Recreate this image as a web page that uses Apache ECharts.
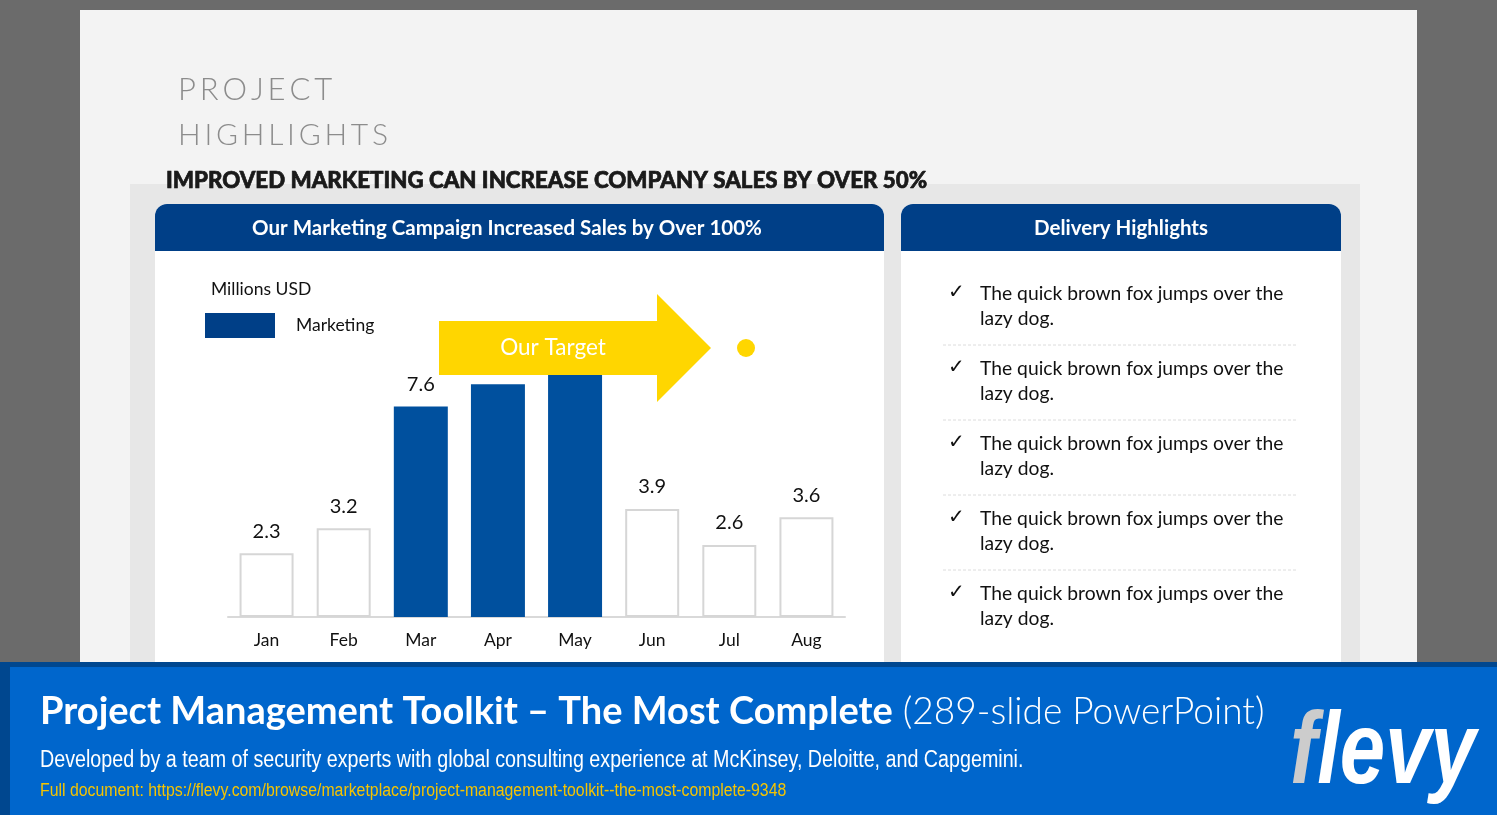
<!DOCTYPE html>
<html>
<head>
<meta charset="utf-8">
<script src="https://cdn.jsdelivr.net/npm/echarts@6/dist/echarts.min.js"></script>
<style>
  html, body { margin: 0; padding: 0; background: #6b6b6b; }
  #chart { width: 1497px; height: 815px; }
</style>
</head>
<body>
<div id="chart"></div>
<script>
// ---- data ----
const months = ['Jan', 'Feb', 'Mar', 'Apr', 'May', 'Jun', 'Jul', 'Aug'];
const marketingSales = [null, null, 7.6, 8.4, 9.2, null, null, null];
const otherSales = [2.3, 3.2, null, null, null, 3.9, 2.6, 3.6];
const unitLabel = 'Millions USD';
const seriesName = 'Marketing';
const targetLabel = 'Our Target';
const highlights = [
  'The quick brown fox jumps over the\nlazy dog.',
  'The quick brown fox jumps over the\nlazy dog.',
  'The quick brown fox jumps over the\nlazy dog.',
  'The quick brown fox jumps over the\nlazy dog.',
  'The quick brown fox jumps over the\nlazy dog.'
];

const BODY = 'Lato, "Open Sans", sans-serif';
const SANS = '"Liberation Sans", Arial, sans-serif';
const DARKBLUE = '#003f87';
const BARBLUE = '#00509e';

const chart = echarts.init(document.getElementById('chart'), null, { renderer: 'canvas' });

const graphics = [];
// slide backgrounds
graphics.push({ type: 'rect', z: -10, shape: { x: 0, y: 0, width: 1497, height: 815 }, style: { fill: '#6b6b6b' } });
graphics.push({ type: 'rect', z: -9, shape: { x: 80, y: 10, width: 1337, height: 660 }, style: { fill: '#f3f3f3' } });
graphics.push({ type: 'rect', z: -8, shape: { x: 130, y: 184, width: 1230, height: 486 }, style: { fill: '#e7e7e7' } });
// left panel
graphics.push({ type: 'rect', z: -7, shape: { x: 155, y: 204, width: 729, height: 466, r: [12, 12, 0, 0] }, style: { fill: '#ffffff' } });
graphics.push({ type: 'rect', z: -6, shape: { x: 155, y: 204, width: 729, height: 47, r: [12, 12, 0, 0] }, style: { fill: DARKBLUE } });
// right panel
graphics.push({ type: 'rect', z: -7, shape: { x: 901, y: 204, width: 440, height: 466, r: [12, 12, 0, 0] }, style: { fill: '#ffffff' } });
graphics.push({ type: 'rect', z: -6, shape: { x: 901, y: 204, width: 440, height: 47, r: [12, 12, 0, 0] }, style: { fill: DARKBLUE } });

// titles
graphics.push({ type: 'text', x: 178, y: 90, style: { text: 'P\u2009R\u2009O\u2009J\u2009E\u2009C\u2009T', fill: '#8c8c8c', fontSize: 31, fontWeight: 300, fontFamily: BODY, textAlign: 'left', textVerticalAlign: 'middle' } });
graphics.push({ type: 'text', x: 178, y: 135, style: { text: 'H\u2009I\u2009G\u2009H\u2009L\u2009I\u2009G\u2009H\u2009T\u2009S', fill: '#8c8c8c', fontSize: 30, fontWeight: 300, fontFamily: BODY, textAlign: 'left', textVerticalAlign: 'middle' } });
graphics.push({ type: 'text', x: 166, y: 181, style: { text: 'IMPROVED MARKETING CAN INCREASE COMPANY SALES BY OVER 50%', fill: '#1a1a1a', stroke: '#000', lineWidth: 0.6, fontSize: 22.3, fontWeight: 900, fontFamily: BODY, textAlign: 'left', textVerticalAlign: 'middle' } });
graphics.push({ type: 'text', x: 507, y: 228, style: { text: 'Our Marketing Campaign Increased Sales by Over 100%', fill: '#ffffff', fontSize: 20.5, fontWeight: 'bold', fontFamily: BODY, textAlign: 'center', textVerticalAlign: 'middle' } });
graphics.push({ type: 'text', x: 1121, y: 228, style: { text: 'Delivery Highlights', fill: '#ffffff', fontSize: 20.5, fontWeight: 'bold', fontFamily: BODY, textAlign: 'center', textVerticalAlign: 'middle' } });
graphics.push({ type: 'text', x: 211, y: 289, style: { text: unitLabel, fill: '#111', fontSize: 17.5, fontFamily: BODY, textAlign: 'left', textVerticalAlign: 'middle' } });

// target arrow
graphics.push({ type: 'polygon', z: 100, shape: { points: [[439, 321], [657, 321], [657, 294], [711, 348], [657, 402], [657, 375], [439, 375]] }, style: { fill: '#ffd600' } });
graphics.push({ type: 'text', z: 101, x: 553, y: 348, style: { text: targetLabel, fill: '#ffffff', fontSize: 22.5, fontFamily: BODY, textAlign: 'center', textVerticalAlign: 'middle' } });
graphics.push({ type: 'circle', z: 100, shape: { cx: 746, cy: 348, r: 9 }, style: { fill: '#ffd600' } });

// right panel list
highlights.forEach(function (t, i) {
  const y0 = 294 + i * 75;
  graphics.push({ type: 'text', x: 948, y: y0 - 1, style: { text: '\u2713', fill: '#111', fontSize: 20, fontFamily: '"DejaVu Sans", sans-serif', textAlign: 'left', textVerticalAlign: 'middle' } });
  graphics.push({ type: 'text', x: 980, y: y0 - 13, style: { text: t, fill: '#111', fontSize: 19.3, fontFamily: BODY, lineHeight: 25, textAlign: 'left', textVerticalAlign: 'top' } });
  if (i < highlights.length - 1) {
    graphics.push({ type: 'line', shape: { x1: 943, y1: y0 + 51, x2: 1298, y2: y0 + 51 }, style: { stroke: '#dcdcdc', lineWidth: 1, lineDash: [3, 2] } });
  }
});

// bottom banner
graphics.push({ type: 'rect', z: 50, shape: { x: 0, y: 662, width: 1497, height: 153 }, style: { fill: '#00478f' } });
graphics.push({ type: 'rect', z: 51, shape: { x: 10, y: 667, width: 1487, height: 148 }, style: { fill: '#0066cc' } });
graphics.push({ type: 'text', z: 52, x: 40, y: 712, style: {
  text: '{b|Project Management Toolkit \u2013 The Most Complete}{n|\u00a0(289-slide PowerPoint)}',
  textAlign: 'left', textVerticalAlign: 'middle',
  rich: {
    b: { fill: '#ffffff', fontSize: 38, fontWeight: 'bold', fontFamily: BODY },
    n: { fill: '#ffffff', fontSize: 37, fontWeight: 300, fontFamily: BODY }
  }
} });
graphics.push({ type: 'text', z: 52, x: 40, y: 761, scaleX: 0.856, style: { text: 'Developed by a team of security experts with global consulting experience at McKinsey, Deloitte, and Capgemini.', fill: '#ffffff', fontSize: 23, fontFamily: SANS, textAlign: 'left', textVerticalAlign: 'middle' } });
graphics.push({ type: 'text', z: 52, x: 40, y: 791, scaleX: 0.88, style: { text: 'Full document: https://flevy.com/browse/marketplace/project-management-toolkit--the-most-complete-9348', fill: '#f5c400', fontSize: 18, fontFamily: SANS, textAlign: 'left', textVerticalAlign: 'middle' } });
graphics.push({ type: 'text', z: 52, x: 1290, y: 755, scaleX: 0.8, style: {
  text: '{f|f}{l|levy}', textAlign: 'left', textVerticalAlign: 'middle',
  rich: {
    f: { fill: '#cccccc', fontSize: 102, fontWeight: 'bold', fontStyle: 'italic', fontFamily: SANS },
    l: { fill: '#ffffff', fontSize: 102, fontWeight: 'bold', fontStyle: 'italic', fontFamily: SANS }
  }
} });

const labelCommon = { show: true, position: 'top', distance: 12, color: '#111', fontSize: 20, fontFamily: BODY };

chart.setOption({
  animation: false,
  backgroundColor: 'transparent',
  graphic: graphics,
  legend: {
    data: [seriesName],
    left: 205, top: 313, padding: 0,
    itemWidth: 70, itemHeight: 25, itemGap: 10,
    icon: 'rect',
    itemStyle: { color: DARKBLUE },
    textStyle: { color: '#111', fontSize: 17.5, fontFamily: BODY, padding: [0, 0, 0, 16] }
  },
  grid: { left: 228, right: 652, top: 340, bottom: 198, containLabel: false },
  xAxis: {
    type: 'category',
    data: months,
    axisLine: { show: true, lineStyle: { color: '#d9d9d9', width: 2 } },
    axisTick: { show: false },
    axisLabel: { color: '#111', fontSize: 17.5, fontFamily: BODY, margin: 14 }
  },
  yAxis: { type: 'value', min: 0, max: 10, show: false, splitLine: { show: false } },
  series: [
    {
      name: seriesName, type: 'bar', stack: 'sales', barWidth: '70%',
      data: marketingSales,
      itemStyle: { color: BARBLUE },
      label: labelCommon
    },
    {
      name: 'Other', type: 'bar', stack: 'sales', barWidth: '70%',
      data: otherSales,
      itemStyle: { color: '#ffffff', borderColor: '#d6d6d6', borderWidth: 2 },
      label: labelCommon
    }
  ]
});
</script>
</body>
</html>
